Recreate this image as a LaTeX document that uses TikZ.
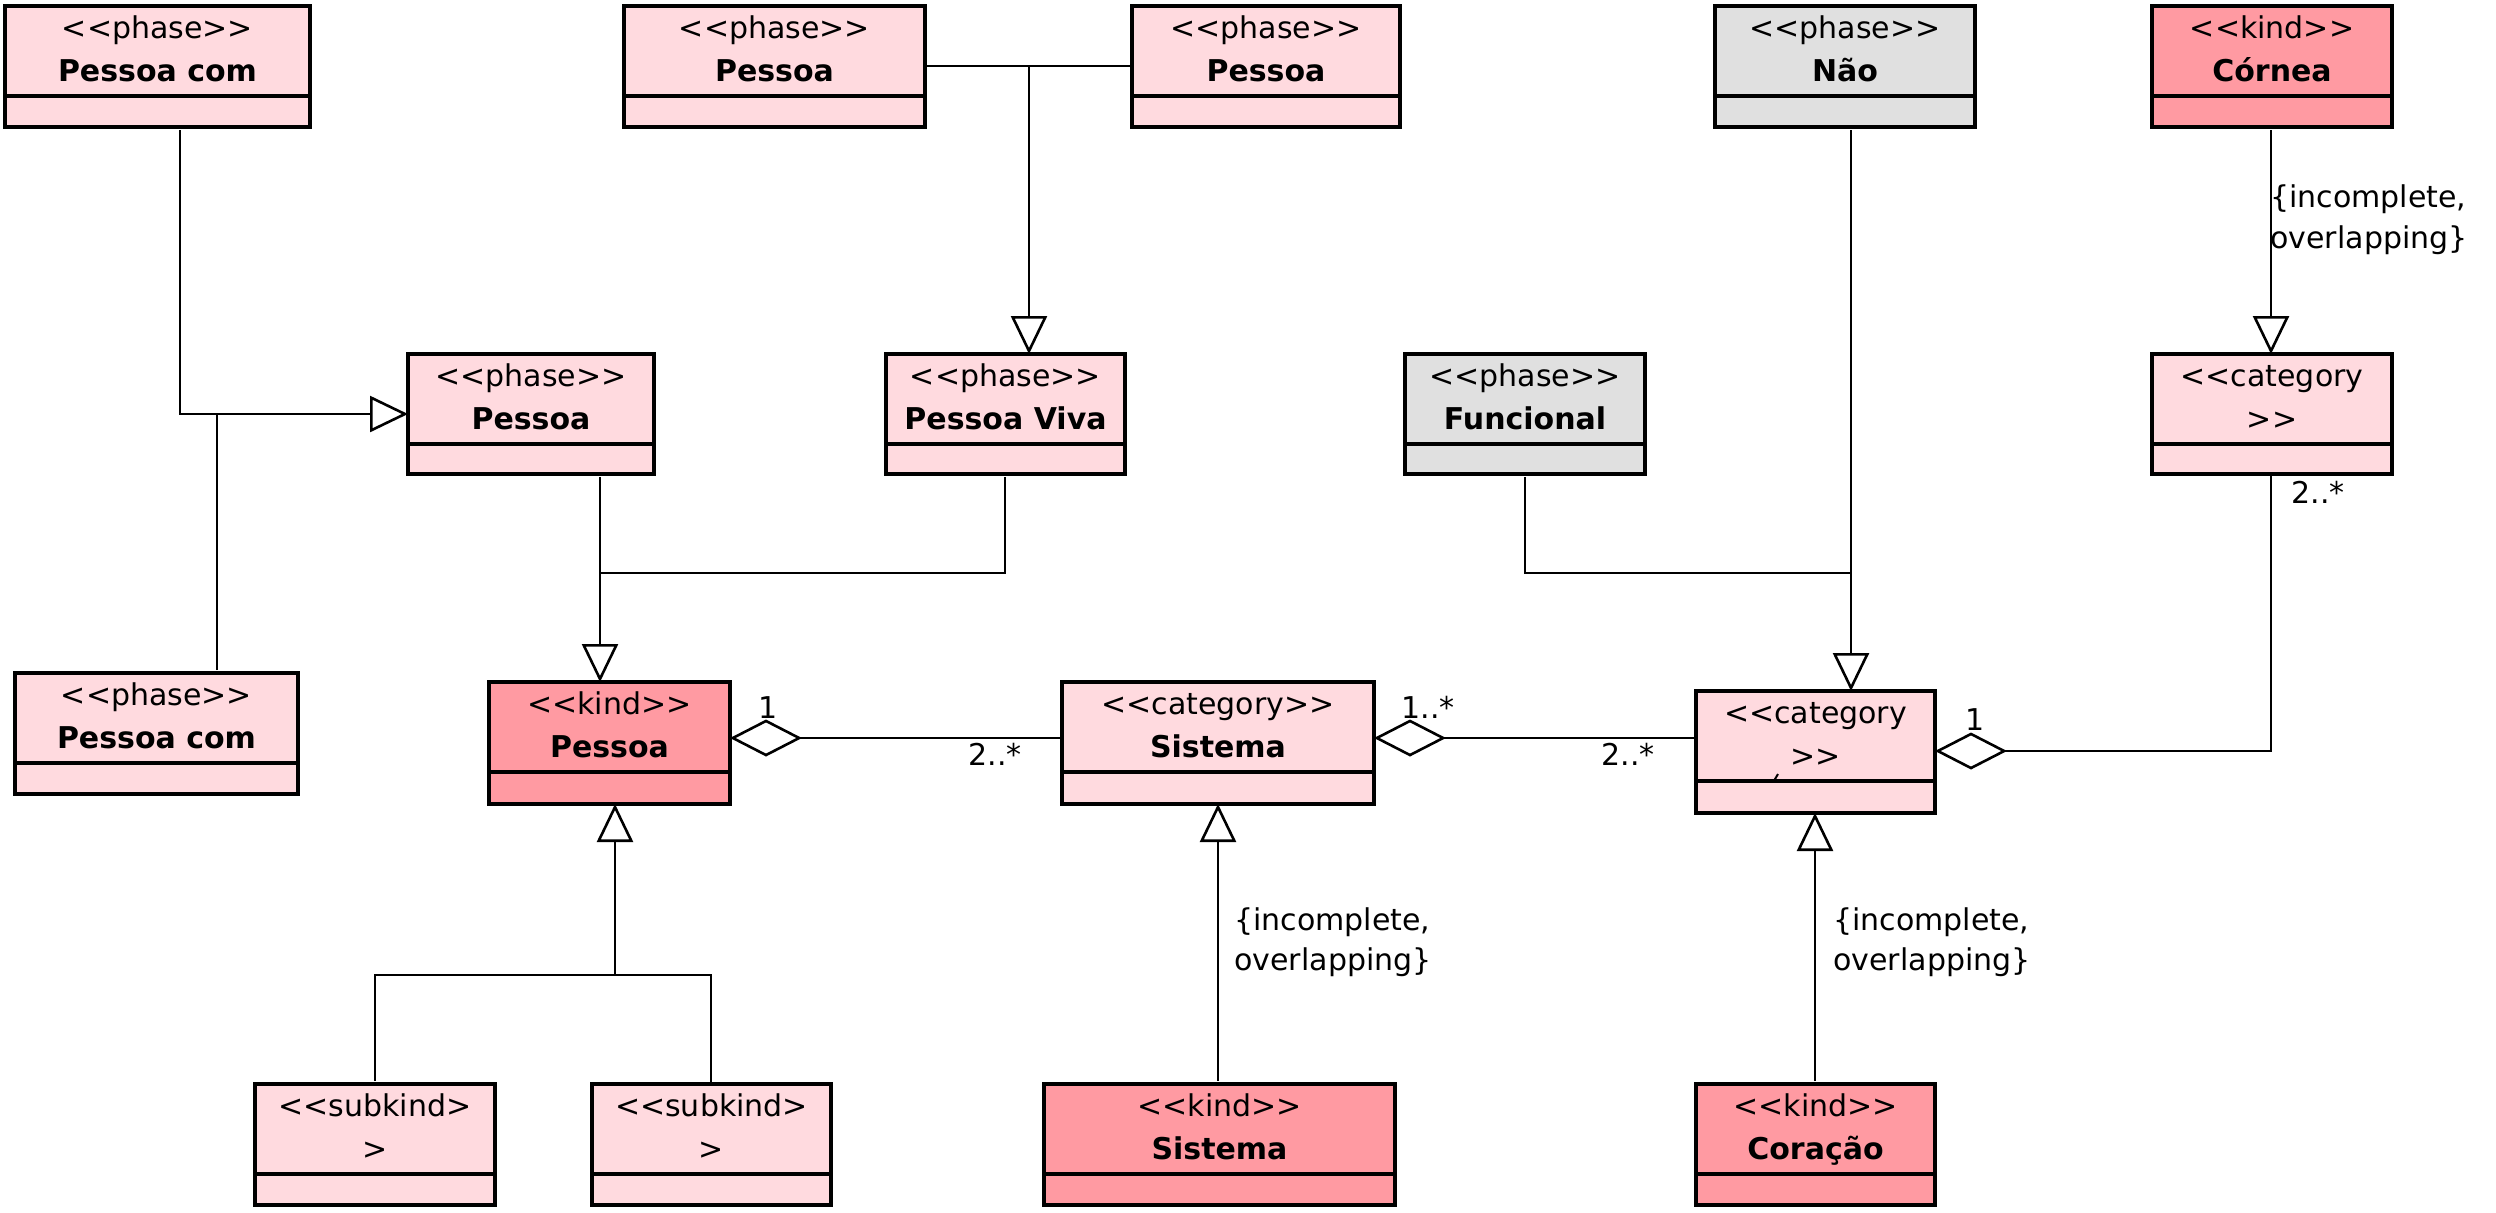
\documentclass[tikz,border=0pt]{standalone}
\usepackage{fontspec}
\setmainfont{DejaVu Sans}
\usetikzlibrary{arrows.meta,fit}
\definecolor{phasepink}{HTML}{FFDADF}
\definecolor{kindpink}{HTML}{FF9AA2}
\definecolor{phasegray}{HTML}{E0E0E0}
\tikzset{
  umlbox/.style={draw, line width=1.6pt, inner sep=0pt, outer sep=0pt},
  divline/.style={line width=1.6pt},
  txt/.style={anchor=base, inner sep=0pt, font=\fontsize{15}{18}\selectfont},
  conn/.style={line width=1.3pt},
  gap/.style={shorten <=1.5pt},
  gen/.style={conn, -{Triangle[open, length=19pt, width=18pt]}},
  agg/.style={conn, {Diamond[open, length=36pt, width=18.5pt]}-},
  mult/.style={txt},
  constraint/.style={txt, anchor=base west},
}
\newcommand{\umlclass}[8]{%
  \node[umlbox, fill=#6, fit={(#2,#3) (#4,#5)}] (#1) {};
  \draw[divline] ({#2},{#3+90}) -- ({#4},{#3+90});
  \node[txt] (#1-s) at ({(#2+#4)/2},{#3+32}) {#7};
  \node[txt] (#1-n) at ({(#2+#4)/2},{#3+75}) {#8};
}
\begin{document}
\begin{tikzpicture}[x=0.5pt, y=-0.5pt]
\fill[white] (0,0) rectangle (2496,1212);
\useasboundingbox (0,0) rectangle (2496,1212);

% classes
\umlclass{A}{5}{6}{310}{127}{phasepink}{<{}<phase>{}>}{\bfseries Pessoa com}
\umlclass{B}{624}{6}{925}{127}{phasepink}{<{}<phase>{}>}{\bfseries Pessoa}
\umlclass{C}{1132}{6}{1400}{127}{phasepink}{<{}<phase>{}>}{\bfseries Pessoa}
\umlclass{D}{1715}{6}{1975}{127}{phasegray}{<{}<phase>{}>}{\bfseries Não}
\umlclass{E}{2152}{6}{2392}{127}{kindpink}{<{}<kind>{}>}{\bfseries Córnea}
\umlclass{F}{408}{354}{654}{474}{phasepink}{<{}<phase>{}>}{\bfseries Pessoa}
\umlclass{G}{886}{354}{1125}{474}{phasepink}{<{}<phase>{}>}{\bfseries Pessoa Viva}
\umlclass{H}{1405}{354}{1645}{474}{phasegray}{<{}<phase>{}>}{\bfseries Funcional}
\umlclass{I}{2152}{354}{2392}{474}{phasepink}{<{}<category}{>{}>}
\umlclass{K}{15}{673}{298}{794}{phasepink}{<{}<phase>{}>}{\bfseries Pessoa com}
\umlclass{L}{489}{682}{730}{804}{kindpink}{<{}<kind>{}>}{\bfseries Pessoa}
\umlclass{M}{1062}{682}{1374}{804}{phasepink}{<{}<category>{}>}{\bfseries Sistema}
\umlclass{N}{1696}{691}{1935}{813}{phasepink}{<{}<category}{>{}>}
\umlclass{S1}{255}{1084}{495}{1205}{phasepink}{<{}<subkind>}{>}
\umlclass{S2}{592}{1084}{831}{1205}{phasepink}{<{}<subkind>}{>}
\umlclass{P}{1044}{1084}{1395}{1205}{kindpink}{<{}<kind>{}>}{\bfseries Sistema}
\umlclass{Q}{1696}{1084}{1935}{1205}{kindpink}{<{}<kind>{}>}{\bfseries Coração}
\draw[line width=1pt] (1774.5,780) -- (1778,774);

% generalization A,K -> F
\coordinate (jA) at (180,414);
\coordinate (jK) at (217,414);
\draw[gen, gap] (A.south -| jA) -- (jA) -- (F.west |- jA);
\draw[conn, gap] (K.north -| jK) -- (jK);

% generalization B,C -> G
\coordinate (jBC) at (1029,66);
\draw[conn] (B.east |- jBC) -- (C.west |- jBC);
\draw[gen] (jBC) -- (G.north -| jBC);

% generalization F,G -> L
\coordinate (jFG) at (600,573);
\coordinate (jG) at (1005,573);
\draw[gen, gap] (F.south -| jFG) -- (L.north -| jFG);
\draw[conn, gap] (G.south -| jG) -- (jG) -- (jFG);

% generalization D,H -> N
\coordinate (jD) at (1851,573);
\coordinate (jH) at (1525,573);
\draw[gen, gap] (D.south -| jD) -- (N.north -| jD);
\draw[conn, gap] (H.south -| jH) -- (jH) -- (jD);

% generalization E -> I
\coordinate (xE) at (2271,0);
\draw[gen, gap] (E.south -| xE) -- (I.north -| xE);
\node[constraint] (cE1) at (2270,207) {\{incomplete,};
\node[constraint] (cE2) at (2270,248) {overlapping\}};

% generalization S1,S2 -> L
\coordinate (jS) at (615,975);
\coordinate (jS1) at (375,975);
\coordinate (jS2) at (711,975);
\draw[gen] (jS) -- (L.south -| jS);
\draw[conn, gap] (S1.north -| jS1) -- (jS1) -- (jS2) -- (S2.north -| jS2);

% generalization P -> M
\coordinate (xP) at (1218,0);
\draw[gen, gap] (P.north -| xP) -- (M.south -| xP);
\node[constraint] (cP1) at (1234,930) {\{incomplete,};
\node[constraint] (cP2) at (1234,970) {overlapping\}};

% generalization Q -> N
\coordinate (xQ) at (1815,0);
\draw[gen, gap] (Q.north -| xQ) -- (N.south -| xQ);
\node[constraint] (cQ1) at (1833,930) {\{incomplete,};
\node[constraint] (cQ2) at (1833,970) {overlapping\}};

% aggregations
\coordinate (yLM) at (0,738);
\draw[agg] (L.east |- yLM) -- (M.west |- yLM);
\draw[agg] (M.east |- yLM) -- (N.west |- yLM);
\coordinate (cNI) at (2271,751);
\draw[agg] (N.east |- cNI) -- (cNI) -- (I.south -| cNI);

% multiplicities
\node[mult] (m1) at (768,718) {1};
\node[mult] (m2) at (995,765) {2..*};
\node[mult] (m3) at (1428,718) {1..*};
\node[mult] (m4) at (1628,765) {2..*};
\node[mult] (m5) at (1975,730) {1};
\node[mult] (m6) at (2318,503) {2..*};
\end{tikzpicture}
\end{document}
